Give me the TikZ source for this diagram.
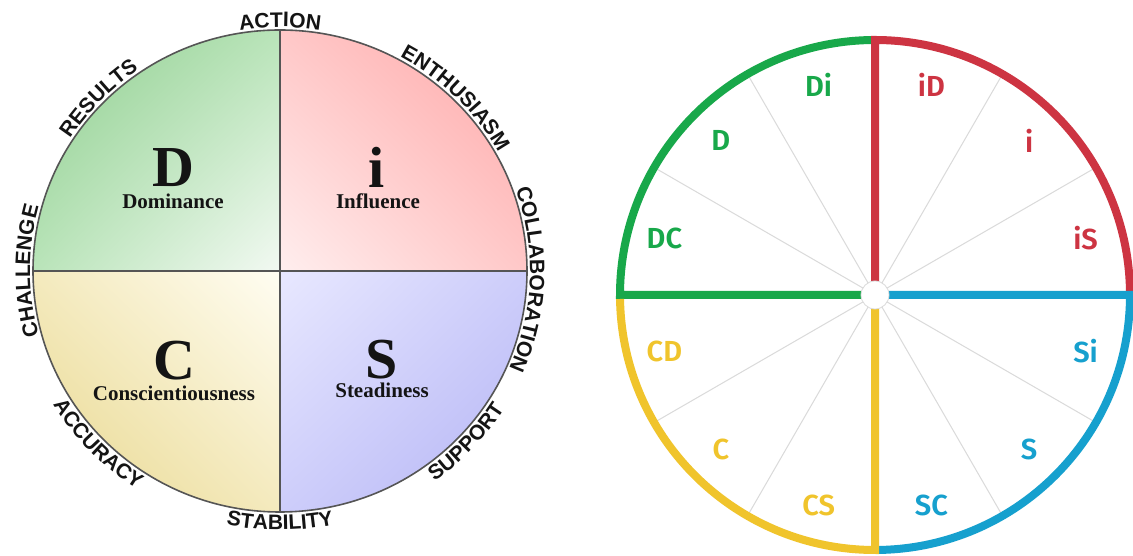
\documentclass[tikz,border=0pt]{standalone}
\usepackage{fontspec}
\usetikzlibrary{decorations.text,calc,shadings}

\newfontfamily\capsfont{Liberation Sans}[UprightFont={* Bold}]
\newfontfamily\letterfont{Liberation Serif}
\newfontfamily\wheelfont{Fira Sans}[UprightFont={* SemiBold}]

% quadrant shading colours (DISC model, left)
\definecolor{dA}{RGB}{140,205,140}
\definecolor{dB}{RGB}{185,228,185}
\definecolor{dC}{RGB}{242,249,242}
\definecolor{iA}{RGB}{255,165,165}
\definecolor{iB}{RGB}{255,200,200}
\definecolor{iC}{RGB}{255,238,238}
\definecolor{cA}{RGB}{232,215,140}
\definecolor{cB}{RGB}{244,234,190}
\definecolor{cC}{RGB}{255,253,242}
\definecolor{sA}{RGB}{180,180,245}
\definecolor{sB}{RGB}{205,205,250}
\definecolor{sC}{RGB}{232,232,255}
\definecolor{rimgray}{RGB}{85,85,85}
\definecolor{inkdark}{RGB}{20,20,20}

% wheel colours (right)
\definecolor{wgreen}{RGB}{24,168,74}
\definecolor{wred}{RGB}{205,52,66}
\definecolor{wblue}{RGB}{22,160,206}
\definecolor{wyellow}{RGB}{240,196,44}
\definecolor{spokegray}{RGB}{218,218,218}

\tikzset{
  rim/.style={draw=rimgray, line width=1.6pt},
  divider/.style={draw=rimgray, line width=1.8pt},
  bigletter/.style={anchor=base, inner sep=0pt, text=inkdark,
    font=\letterfont\bfseries\fontsize{58}{58}\selectfont},
  traitname/.style={anchor=base, inner sep=0pt, text=inkdark,
    font=\letterfont\bfseries\fontsize{21}{21}\selectfont},
  rimword/.style={decorate, decoration={text along path, text align=center,
    text={|\capsfont\fontsize{21}{21}\selectfont\color{inkdark}|#1}}},
  spoke/.style={draw=spokegray, line width=1pt},
  quadarc/.style={line width=8pt, line join=miter, line cap=butt},
  wlabel/.style={inner sep=0pt, font=\wheelfont\fontsize{29}{29}\selectfont},
  ell/.style={x radius=247, y radius=241},
  outer/.style={x radius=250, y radius=244},
  under/.style={x radius=265, y radius=259}
}

\begin{document}
\begin{tikzpicture}[x=1pt,y=1pt]
\fill[white] (0,0) rectangle (1133,556);
\useasboundingbox (0,0) rectangle (1133,556);

% ---------- DISC circle ----------
\coordinate (lc) at (280,285);

\shade[upper left=dA, upper right=dB, lower left=dB, lower right=dC]
  (lc) -- ++(-247,0) arc[start angle=180, end angle=90, ell] -- cycle;
\shade[upper right=iA, upper left=iB, lower right=iB, lower left=iC]
  (lc) -- ++(0,241) arc[start angle=90, end angle=0, ell] -- cycle;
\shade[lower left=cA, upper left=cB, lower right=cB, upper right=cC]
  (lc) -- ++(-247,0) arc[start angle=180, end angle=270, ell] -- cycle;
\shade[lower right=sA, upper right=sB, lower left=sB, upper left=sC]
  (lc) -- ++(247,0) arc[start angle=0, end angle=-90, ell] -- cycle;

\coordinate (ltop) at ($(lc)+(0,241)$);
\coordinate (lbot) at ($(lc)+(0,-241)$);
\coordinate (lleft) at ($(lc)+(-247,0)$);
\coordinate (lright) at ($(lc)+(247,0)$);
\draw[divider] (ltop) -- (lbot);
\draw[divider] (lleft) -- (lright);
\draw[rim] (lc) ellipse[ell];

\node[bigletter] (bigD) at (173,369) {D};
\node[traitname] (nameD) at (173,347) {Dominance};
\node[bigletter] (bigI) at (377,368) {i};
\node[traitname] (nameI) at (378,347) {Influence};
\node[bigletter] (bigC) at (174,176) {C};
\node[traitname] (nameC) at (174,155) {Conscientiousness};
\node[bigletter] (bigS) at (382,177) {S};
\node[traitname] (nameS) at (382,158) {Steadiness};

% words around the rim: upper ones run clockwise, lower ones anticlockwise
\path[rimword=ACTION] (lc) ++(130:250 and 244)
  arc[start angle=130, end angle=50, outer];
\path[rimword=ENTHUSIASM] (lc) ++(85:250 and 244)
  arc[start angle=85, end angle=5, outer];
\path[rimword=COLLABORATION] (lc) ++(40:250 and 244)
  arc[start angle=40, end angle=-44, outer];
\path[rimword=RESULTS] (lc) ++(176:250 and 244)
  arc[start angle=176, end angle=96, outer];
\path[rimword=CHALLENGE] (lc) ++(222:250 and 244)
  arc[start angle=222, end angle=138, outer];
\path[rimword=ACCURACY] (lc) ++(-176:265 and 259)
  arc[start angle=-176, end angle=-96, under];
\path[rimword=STABILITY] (lc) ++(-130:265 and 259)
  arc[start angle=-130, end angle=-50, under];
\path[rimword=SUPPORT] (lc) ++(-83:265 and 259)
  arc[start angle=-83, end angle=-3, under];

% ---------- twelve-style wheel ----------
\coordinate (wc) at (875,261);
\foreach \a in {30,60,120,150,210,240,300,330}
  \draw[spoke] (wc) -- ++(\a:255);

\draw[quadarc, wgreen] (wc) -- ++(180:255) arc[start angle=180, end angle=90.9, radius=255];
\draw[quadarc, wred] (wc) -- ++(90:255) arc[start angle=90, end angle=0.9, radius=255];
\draw[quadarc, wblue] (wc) -- ++(0:255) arc[start angle=0, end angle=-89.1, radius=255];
\draw[quadarc, wyellow] (wc) -- ++(-90:255) arc[start angle=-90, end angle=-179.1, radius=255];

\node[circle, draw=spokegray, fill=white, line width=0.8pt, minimum size=28pt, inner sep=0pt] (hub) at (wc) {};

\node[wlabel, text=wgreen] (wDi) at ($(wc)+(105:218)$) {Di};
\node[wlabel, text=wgreen] (wD) at ($(wc)+(135:218)$) {D};
\node[wlabel, text=wgreen] (wDC) at ($(wc)+(165:218)$) {DC};
\node[wlabel, text=wred] (wiD) at ($(wc)+(75:218)$) {iD};
\node[wlabel, text=wred] (wi) at ($(wc)+(45:218)$) {i};
\node[wlabel, text=wred] (wiS) at ($(wc)+(15:218)$) {iS};
\node[wlabel, text=wblue] (wSi) at ($(wc)+(-15:218)$) {Si};
\node[wlabel, text=wblue] (wS) at ($(wc)+(-45:218)$) {S};
\node[wlabel, text=wblue] (wSC) at ($(wc)+(-75:218)$) {SC};
\node[wlabel, text=wyellow] (wCS) at ($(wc)+(-105:218)$) {CS};
\node[wlabel, text=wyellow] (wC) at ($(wc)+(-135:218)$) {C};
\node[wlabel, text=wyellow] (wCD) at ($(wc)+(-165:218)$) {CD};
\end{tikzpicture}
\end{document}
